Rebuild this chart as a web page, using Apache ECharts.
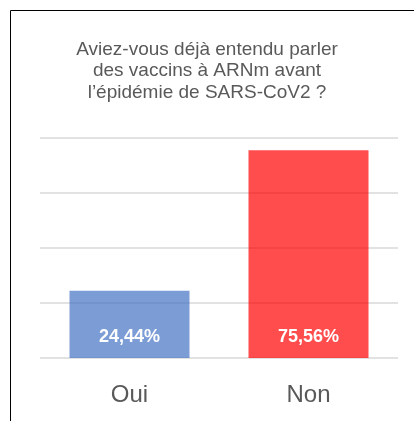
<!DOCTYPE html>
<html>
<head>
<meta charset="utf-8">
<script src="https://cdn.jsdelivr.net/npm/echarts@6/dist/echarts.min.js"></script>
<style>
    html, body { margin: 0; padding: 0; background: #fff; }
    #chart { width: 414px; height: 421px; }
</style>
</head>
<body>
<div id="chart"></div>
<script>
    const titleText = 'Aviez-vous déjà entendu parler\ndes vaccins à ARNm avant\nl’épidémie de SARS-CoV2 ?'
    const categories = ['Oui', 'Non']
    const percentValues = [24.44, 75.56]
    const barColors = ['rgba(68, 114, 196, 0.7)', 'rgba(255, 0, 0, 0.7)']

    let chart = echarts.init(document.getElementById('chart'))
    let option = {
        animation: false,
        textStyle: { fontFamily: 'Liberation Sans, Arial, sans-serif' },
        title: {
            text: titleText,
            left: 202,
            top: 34,
            textAlign: 'center',
            textStyle: {
                color: '#595959',
                fontSize: 19,
                fontWeight: 'normal',
                lineHeight: 21.5
            }
        },
        graphic: [{
            type: 'rect',
            shape: { x: 10.5, y: 10.5, width: 600, height: 600 },
            style: { fill: 'none', stroke: '#000', lineWidth: 1 }
        }],
        grid: { left: 40, right: 16, top: 138, bottom: 63 },
        xAxis: {
            type: 'category',
            data: categories,
            axisLine: { show: false },
            axisTick: { show: false },
            axisLabel: { color: '#595959', fontSize: 24, margin: 25 }
        },
        yAxis: {
            type: 'value',
            min: 0,
            max: 80,
            interval: 20,
            axisLabel: { show: false },
            axisLine: { show: false },
            axisTick: { show: false },
            splitLine: { lineStyle: { color: '#d9d9d9', width: 1.5 } }
        },
        series: [{
            type: 'bar',
            barWidth: 120,
            data: percentValues.map((v, i) => ({
                value: v,
                itemStyle: { color: barColors[i] }
            })),
            label: {
                show: true,
                position: 'insideBottom',
                distance: 12,
                color: '#fff',
                fontSize: 18,
                fontWeight: 'bold',
                formatter: p => p.value.toFixed(2).replace('.', ',') + '%'
            }
        }]
    }
    chart.setOption(option)
</script>
</body>
</html>
